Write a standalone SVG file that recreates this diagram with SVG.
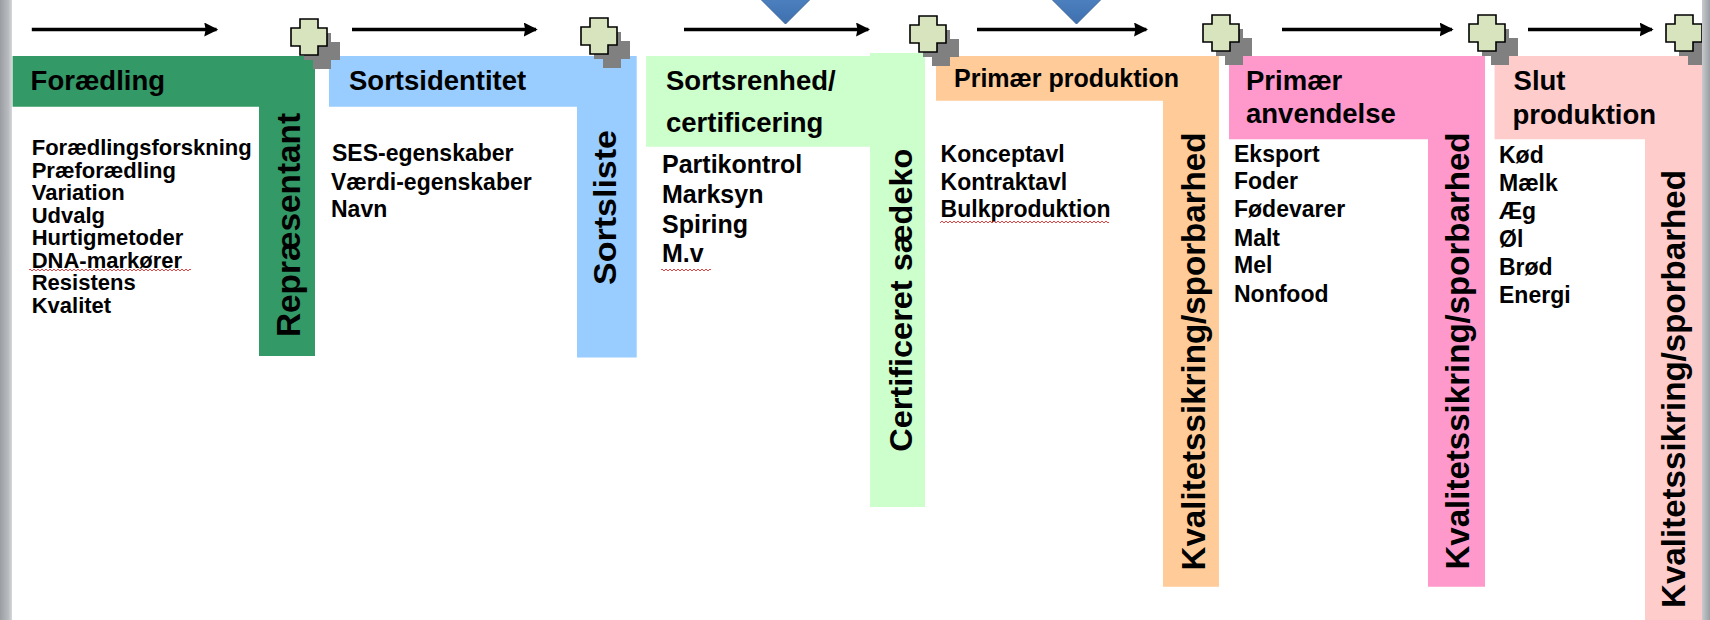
<svg xmlns="http://www.w3.org/2000/svg" width="1710" height="620" viewBox="0 0 1710 620">
<style>
text{font-family:"Liberation Sans",Arial,sans-serif;font-weight:bold;fill:#000}
.h{font-size:27.5px}
.h2{font-size:25px}
.l22{font-size:22px}
.l23{font-size:23px}
.l25{font-size:25px}
.v{font-size:33px}
.plus{fill:#d7e4bd;stroke:#000;stroke-width:1.6}
.shadow{fill:#808080}
.arrow{stroke:#000;stroke-width:3.5;fill:none;marker-end:url(#ah)}
.dia{fill:url(#dg);stroke:#3a6399;stroke-width:1}
</style>
<defs>
<marker id="ah" markerWidth="4" markerHeight="4" refX="3.5" refY="2" orient="auto" markerUnits="strokeWidth" viewBox="0 0 4 4">
<path d="M0,0 L4,2 L0,4 L0.4,2 Z" fill="#000"/>
</marker>
<path id="plusShape" d="M9,0 H27 V9 H36 V27 H27 V36 H9 V27 H0 V9 H9 Z"/>
<linearGradient id="dg" x1="0" y1="0" x2="0" y2="1">
<stop offset="0" stop-color="#5b8fd0"/>
<stop offset="1" stop-color="#3e70ae"/>
</linearGradient>
<linearGradient id="edge" x1="0" y1="0" x2="1" y2="0">
<stop offset="0" stop-color="#9a9ea3"/>
<stop offset="0.7" stop-color="#b8bcc0"/>
<stop offset="1" stop-color="#d6d8da"/>
</linearGradient>
<linearGradient id="edgeR" x1="0" y1="0" x2="1" y2="0">
<stop offset="0" stop-color="#c8cacc"/>
<stop offset="1" stop-color="#9a9ea3"/>
</linearGradient>
<pattern id="squig" width="4" height="4" patternUnits="userSpaceOnUse">
<path d="M0,3 L2,1 L4,3" fill="none" stroke="#e03030" stroke-width="0.9"/>
</pattern>
</defs>
<rect x="0" y="0" width="1710" height="620" fill="#fff"/>
<rect x="0" y="0" width="12" height="620" fill="url(#edge)"/>
<rect x="1702" y="0" width="8" height="620" fill="url(#edgeR)"/>

<g id="foraedling">
<path d="M12.6,56 H315 V356 H259 V106.7 H12.6 Z" fill="#339966"/>
<text class="h" x="30.6" y="90">Forædling</text>
<text class="l22" x="31.7" y="155">Forædlingsforskning</text>
<text class="l22" x="31.7" y="177.5">Præforædling</text>
<text class="l22" x="31.7" y="200">Variation</text>
<text class="l22" x="31.7" y="222.5">Udvalg</text>
<text class="l22" x="31.7" y="245">Hurtigmetoder</text>
<text class="l22" x="31.7" y="267.5">DNA-markører</text>
<text class="l22" x="31.7" y="290">Resistens</text>
<text class="l22" x="31.7" y="312.5">Kvalitet</text>
<rect x="29" y="268" width="162" height="4" fill="url(#squig)"/>
<text class="v" transform="translate(299.5,337) rotate(-90)" textLength="224" lengthAdjust="spacingAndGlyphs">Repræsentant</text>
</g>

<g id="sortsidentitet">
<path d="M329,56 H636.7 V357.5 H577 V106.7 H329 Z" fill="#99ccff"/>
<text class="h" x="349" y="90">Sortsidentitet</text>
<text class="l23" x="332" y="160.7">SES-egenskaber</text>
<text class="l23" x="331" y="189.5">Værdi-egenskaber</text>
<text class="l23" x="331" y="216.5">Navn</text>
<text class="v" transform="translate(616,285) rotate(-90)" textLength="155" lengthAdjust="spacingAndGlyphs" style="font-size:31px">Sortsliste</text>
</g>

<g id="sortsrenhed">
<path d="M646,56 H870 V53 H925 V507 H870 V146.7 H646 Z" fill="#ccffcc"/>
<text class="h" x="666" y="90">Sortsrenhed/</text>
<text class="h" x="666" y="131.7">certificering</text>
<text class="l25" x="662" y="173.3">Partikontrol</text>
<text class="l25" x="662" y="203.3">Marksyn</text>
<text class="l25" x="662" y="232.5">Spiring</text>
<text class="l25" x="662" y="261.7">M.v</text>
<rect x="661" y="268" width="50" height="4" fill="url(#squig)"/>
<text class="v" transform="translate(912,451.7) rotate(-90)" textLength="303" lengthAdjust="spacingAndGlyphs" style="font-size:32px">Certificeret sædeko</text>
</g>

<g id="primaer-produktion">
<path d="M936,56 H1219 V586.7 H1163 V100.7 H936 Z" fill="#ffcc99"/>
<text class="h2" x="954" y="87.3">Primær produktion</text>
<text class="l23" x="940.6" y="161.7">Konceptavl</text>
<text class="l23" x="940.6" y="190">Kontraktavl</text>
<text class="l23" x="940.6" y="217.3">Bulkproduktion</text>
<rect x="940" y="220" width="169" height="4" fill="url(#squig)"/>
<text class="v" transform="translate(1205,570.5) rotate(-90)" textLength="438" lengthAdjust="spacingAndGlyphs">Kvalitetssikring/sporbarhed</text>
</g>

<g id="primaer-anvendelse">
<path d="M1229,56 H1485 V586.7 H1428 V139.3 H1229 Z" fill="#ff99cc"/>
<text class="h" x="1246" y="90">Primær</text>
<text class="h" x="1246" y="123.3">anvendelse</text>
<text class="l23" x="1234" y="161.7">Eksport</text>
<text class="l23" x="1234" y="189.3">Foder</text>
<text class="l23" x="1234" y="217.3">Fødevarer</text>
<text class="l23" x="1234" y="245.7">Malt</text>
<text class="l23" x="1234" y="273.3">Mel</text>
<text class="l23" x="1234" y="301.7">Nonfood</text>
<text class="v" transform="translate(1469,569.5) rotate(-90)" textLength="437" lengthAdjust="spacingAndGlyphs">Kvalitetssikring/sporbarhed</text>
</g>

<g id="slut-produktion">
<path d="M1494.6,56 H1702 V620 H1645 V139.3 H1494.6 Z" fill="#ffcccc"/>
<text class="h" x="1513.6" y="90">Slut</text>
<text class="h" x="1512.5" y="124">produktion</text>
<text class="l23" x="1499" y="162.7">Kød</text>
<text class="l23" x="1499" y="190.7">Mælk</text>
<text class="l23" x="1499" y="219.3">Æg</text>
<text class="l23" x="1499" y="246.7">Øl</text>
<text class="l23" x="1499" y="275">Brød</text>
<text class="l23" x="1499" y="303.3">Energi</text>
<text class="v" transform="translate(1685,608) rotate(-90)" textLength="438" lengthAdjust="spacingAndGlyphs">Kvalitetssikring/sporbarhed</text>
</g>

<g id="connectors">
<line class="arrow" x1="31.8" y1="29.5" x2="216.5" y2="29.5"/>
<line class="arrow" x1="352" y1="29.5" x2="536" y2="29.5"/>
<line class="arrow" x1="684" y1="29.5" x2="868.3" y2="29.5"/>
<line class="arrow" x1="977" y1="29.5" x2="1146.3" y2="29.5"/>
<line class="arrow" x1="1282" y1="29.5" x2="1451.9" y2="29.5"/>
<line class="arrow" x1="1528" y1="29.5" x2="1651.9" y2="29.5"/>
</g>

<g id="diamond1"><polygon class="dia" points="785.5,-26 810.5,-1 785.5,24 760.5,-1"/></g>
<g id="diamond2"><polygon class="dia" points="1076.5,-26 1101.5,-1 1076.5,24 1051.5,-1"/></g>

<g id="plus1"><use href="#plusShape" class="shadow" x="304" y="33"/><use href="#plusShape" class="plus" x="291" y="19"/></g>
<g id="plus2"><use href="#plusShape" class="shadow" x="594" y="32"/><use href="#plusShape" class="plus" x="581" y="18"/></g>
<g id="plus3"><use href="#plusShape" class="shadow" x="923" y="30"/><use href="#plusShape" class="plus" x="910" y="16"/></g>
<g id="plus4"><use href="#plusShape" class="shadow" x="1216" y="29"/><use href="#plusShape" class="plus" x="1203" y="15"/></g>
<g id="plus5"><use href="#plusShape" class="shadow" x="1482" y="29"/><use href="#plusShape" class="plus" x="1469" y="15"/></g>
<g id="plus6"><use href="#plusShape" class="shadow" x="1679" y="29"/><use href="#plusShape" class="plus" x="1666" y="15"/></g>
<rect x="1702" y="0" width="8" height="70" fill="url(#edgeR)"/>
</svg>
